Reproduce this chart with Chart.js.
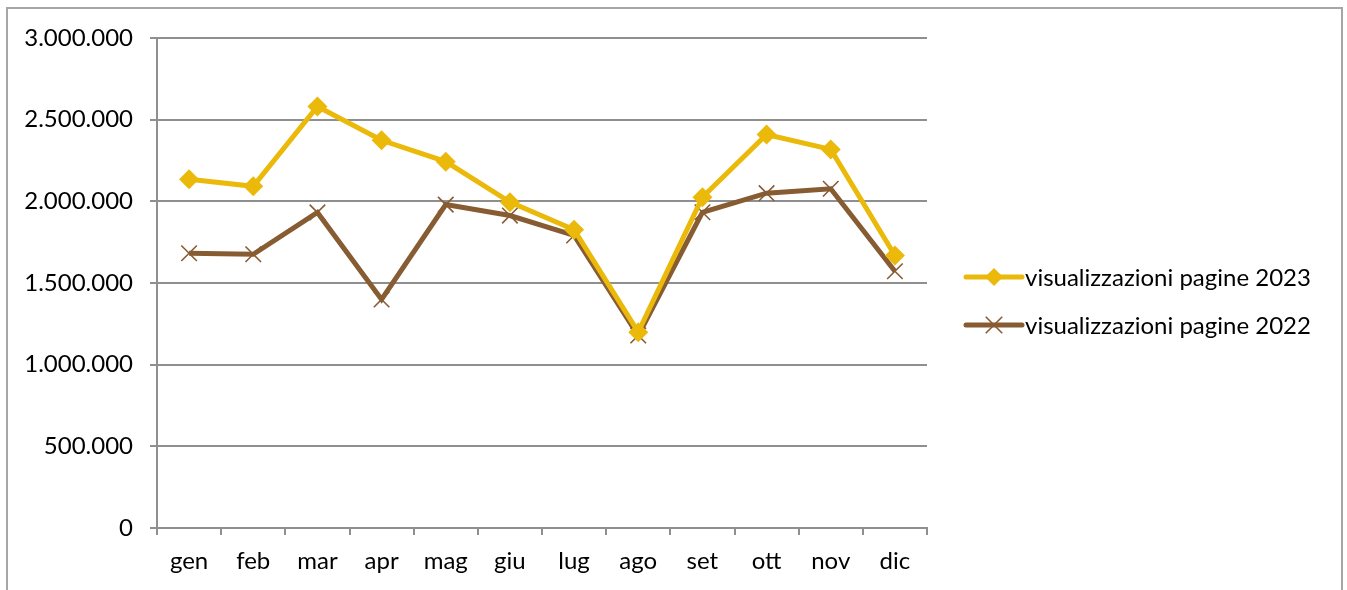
<!DOCTYPE html>
<html>
<head>
<meta charset="utf-8">
<script src="https://cdn.jsdelivr.net/npm/chart.js@4.4.1/dist/chart.umd.min.js"></script>
<style>
  html, body { margin: 0; padding: 0; background: #fff; }
  #wrap { position: relative; width: 1347px; height: 590px; overflow: hidden; }
  #frame { position: absolute; left: 6px; top: 7px; width: 1337px; height: 640px; border: 2px solid #a6a6a6; box-sizing: border-box; }
  #chart { position: absolute; left: 0; top: 0; }
</style>
</head>
<body>
<div id="wrap">
  <div id="frame"></div>
  <canvas id="chart" width="1347" height="590"></canvas>
</div>
<script>
/* data */
const months = ["gen","feb","mar","apr","mag","giu","lug","ago","set","ott","nov","dic"];
const views2023 = [2135000, 2092000, 2581000, 2374000, 2243000, 1995000, 1826000, 1199000, 2025000, 2409000, 2318000, 1668000];
const views2022 = [1682000, 1676000, 1932000, 1399000, 1980000, 1913000, 1791000, 1179000, 1933000, 2050000, 2077000, 1572000];
const seriesNames = ["visualizzazioni pagine 2023", "visualizzazioni pagine 2022"];
const yTicks = [0, 500000, 1000000, 1500000, 2000000, 2500000, 3000000];

const YELLOW = "#EBB90A";
const BROWN = "#885C33";
const GRID = "#8f8f8f";
const FONT = "Lato, 'Open Sans', sans-serif";

/* helpers */
function dots(n){ return String(n).replace(/\B(?=(\d{3})+(?!\d))/g, "."); }

function drawMarker(ctx, style, x, y, r, color){
  ctx.save();
  if(style === "rectRot"){
    ctx.fillStyle = color;
    ctx.beginPath();
    ctx.moveTo(x, y - r); ctx.lineTo(x + r, y); ctx.lineTo(x, y + r); ctx.lineTo(x - r, y);
    ctx.closePath(); ctx.fill();
  } else {
    ctx.strokeStyle = color; ctx.lineWidth = 1.6;
    const d = r * 0.75;
    ctx.beginPath();
    ctx.moveTo(x - d, y - d); ctx.lineTo(x + d, y + d);
    ctx.moveTo(x + d, y - d); ctx.lineTo(x - d, y + d);
    ctx.stroke();
  }
  ctx.restore();
}

/* legend on the right, line + marker + text */
const sideLegend = {
  id: "sideLegend",
  afterDraw(chart){
    const ctx = chart.ctx;
    const x0 = chart.chartArea.right + 39, x1 = x0 + 56;
    chart.data.datasets.forEach((ds, i) => {
      const y = 277 + i * 48;
      ctx.save();
      ctx.strokeStyle = ds.borderColor; ctx.lineWidth = 5; ctx.lineCap = "round";
      ctx.beginPath(); ctx.moveTo(x0, y); ctx.lineTo(x1, y); ctx.stroke();
      ctx.restore();
      drawMarker(ctx, ds.pointStyle, (x0 + x1) / 2, y, ds.pointStyle === "rectRot" ? 9 : 11, ds.pointBorderColor);
      ctx.save();
      ctx.fillStyle = "#000"; ctx.font = "24px " + FONT; ctx.textBaseline = "middle";
      ctx.fillText(ds.label, x1 + 3, y + 1);
      ctx.restore();
    });
  }
};

const chart = new Chart(document.getElementById("chart"), {
  type: "line",
  data: {
    labels: months,
    datasets: [
      {
        label: seriesNames[0], data: views2023,
        borderColor: YELLOW, backgroundColor: YELLOW, borderWidth: 5,
        pointStyle: "rectRot", pointRadius: 10, pointBackgroundColor: YELLOW,
        pointBorderColor: YELLOW, pointBorderWidth: 0, tension: 0
      },
      {
        label: seriesNames[1], data: views2022,
        borderColor: BROWN, backgroundColor: BROWN, borderWidth: 5,
        pointStyle: "crossRot", pointRadius: 11, pointBackgroundColor: BROWN,
        pointBorderColor: BROWN, pointBorderWidth: 1.6, tension: 0
      }
    ]
  },
  options: {
    responsive: false,
    animation: false,
    layout: { padding: { top: 38, right: 420, bottom: 0, left: 0 } },
    plugins: { legend: { display: false }, tooltip: { enabled: false } },
    scales: {
      x: {
        offset: true,
        grid: { offset: true, drawOnChartArea: false, drawTicks: true, tickLength: 7, color: GRID, lineWidth: 2 },
        border: { display: true, color: GRID, width: 2 },
        ticks: { color: "#000", font: { family: FONT, size: 24 }, padding: 12, maxRotation: 0 },
        afterFit(s){ s.height = 62; }
      },
      y: {
        min: 0, max: 3000000,
        afterBuildTicks(s){ s.ticks = yTicks.map(v => ({ value: v })); },
        grid: { color: GRID, lineWidth: 2, drawTicks: true, tickLength: 7 },
        border: { display: true, color: GRID, width: 2 },
        ticks: { color: "#000", font: { family: FONT, size: 24 }, padding: 17, callback: v => dots(v) },
        afterFit(s){ s.width = 157; }
      }
    }
  },
  plugins: [sideLegend]
});
</script>
</body>
</html>
